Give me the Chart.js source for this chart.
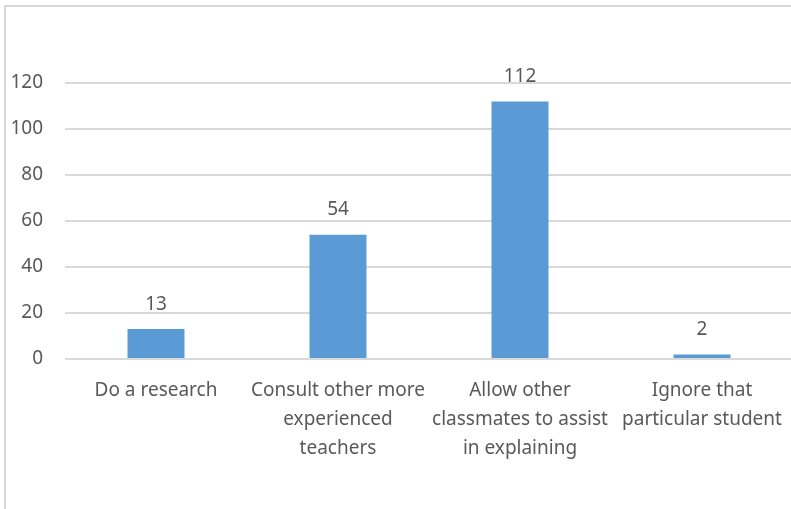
<!DOCTYPE html>
<html>
<head>
<meta charset="utf-8">
<script src="https://cdn.jsdelivr.net/npm/chart.js@4"></script>
<style>
html,body{margin:0;background:#fff;overflow:hidden;}
#frame{position:absolute;left:4px;top:5px;width:789px;height:504px;border-left:2px solid #d9d9d9;border-top:2px solid #d9d9d9;overflow:hidden;}
#wrap{position:absolute;left:0;top:0;width:787px;height:502px;}
</style>
</head>
<body>
<div id="frame"><div id="wrap"><canvas id="barChart"></canvas></div></div>
<script>
const categories = [
["Do a research"],
["Consult other more","experienced","teachers"],
["Allow other","classmates to assist","in explaining"],
["Ignore that","particular student"]
];
const counts = [13,54,112,2];
const yTicks = [0,20,40,60,80,100,120];

const textColor = "#595959";
const fontFamily = "'Noto Sans', sans-serif";

// value labels above each bar
const valueLabels = {
id:"valueLabels",
afterDatasetsDraw(chart){
const ctx = chart.ctx;
const meta = chart.getDatasetMeta(0);
ctx.save();
ctx.fillStyle = textColor;
ctx.font = "19px " + fontFamily;
ctx.textAlign = "center";
ctx.textBaseline = "middle";
meta.data.forEach((bar,i)=>{
ctx.fillText(String(counts[i]), bar.x, bar.y - 25);
});
ctx.restore();
}
};

new Chart(document.getElementById("barChart"),{
type:"bar",
data:{
labels:categories,
datasets:[{
data:counts,
backgroundColor:"#5b9bd5",
barPercentage:0.313,
categoryPercentage:1
}]
},
options:{
responsive:true,
maintainAspectRatio:false,
animation:false,
layout:{padding:{top:76,right:0,bottom:0,left:0}},
plugins:{
legend:{display:false},
tooltip:{enabled:false}
},
scales:{
x:{
grid:{display:false,drawTicks:false},
border:{display:false},
ticks:{
color:textColor,
font:{family:fontFamily,size:19,lineHeight:1.53},
padding:17,
maxRotation:0,
autoSkip:false
},
afterFit(axis){
axis.height = 150;
axis.paddingLeft = 0;
axis.paddingRight = 0;
}
},
y:{
min:0,
max:120,
afterBuildTicks(axis){axis.ticks = yTicks.map(v=>({value:v}));},
grid:{color:"#d9d9d9",lineWidth:2,drawTicks:false},
border:{display:false},
ticks:{
color:textColor,
font:{family:fontFamily,size:19},
padding:22
},
afterFit(axis){axis.width = 59;}
}
}
},
plugins:[valueLabels]
});
</script>
</body>
</html>
